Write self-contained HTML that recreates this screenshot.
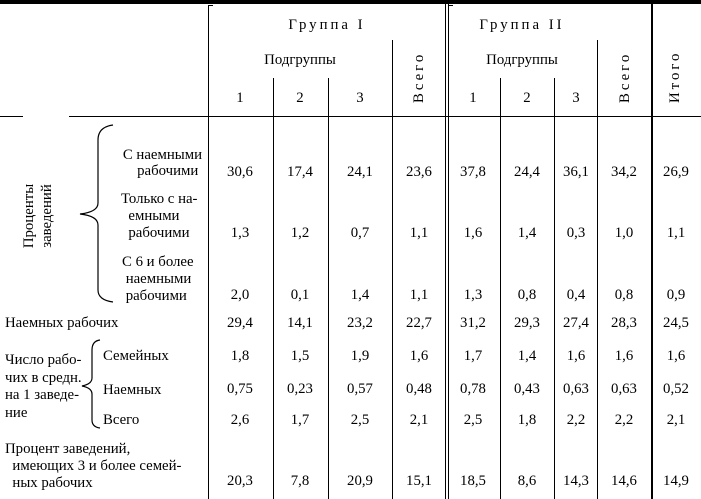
<!DOCTYPE html>
<html><head><meta charset="utf-8"><style>
body{margin:0;width:701px;height:499px;background:#fff;position:relative;overflow:hidden;font-family:"Liberation Serif",serif;font-size:14.8px;color:#000}
.t{position:absolute;line-height:16px;white-space:nowrap}
.c{position:absolute;line-height:16px;width:60px;text-align:center;white-space:nowrap}
.v{position:absolute;background:#000;width:1px}
.h{position:absolute;background:#000;height:1px}
.r{position:absolute;line-height:16px;white-space:nowrap;transform:rotate(-90deg);transform-origin:center}
.sp{letter-spacing:3px}
</style></head><body>
<div class="h" style="left:0;top:0;width:701px;height:4px"></div>
<div class="h" style="left:0;top:116px;width:23px"></div>
<div class="h" style="left:69px;top:116px;width:632px"></div>
<div class="v" style="left:208px;top:5px;height:494px"></div>
<div class="v" style="left:273px;top:78px;height:421px"></div>
<div class="v" style="left:328px;top:78px;height:421px"></div>
<div class="v" style="left:392px;top:40px;height:459px"></div>
<div class="v" style="left:445px;top:4px;height:495px"></div>
<div class="v" style="left:448px;top:4px;height:495px"></div>
<div class="v" style="left:500px;top:78px;height:421px"></div>
<div class="v" style="left:554px;top:78px;height:421px"></div>
<div class="v" style="left:597px;top:40px;height:459px"></div>
<div class="v" style="left:651px;top:4px;height:495px;width:2px"></div>
<div class="h" style="left:208px;top:5px;width:5px"></div>
<div class="h" style="left:448px;top:5px;width:5px"></div>

<div class="c sp" style="left:282px;top:17px;width:90px">Группа I</div>
<div class="c sp" style="left:467px;top:17px;width:110px">Группа II</div>
<div class="c" style="left:255px;top:52px;width:90px">Подгруппы</div>
<div class="c" style="left:477px;top:52px;width:90px">Подгруппы</div>
<div class="c" style="left:210px;top:90px">1</div>
<div class="c" style="left:270px;top:90px">2</div>
<div class="c" style="left:330px;top:90px">3</div>
<div class="c" style="left:443px;top:90px">1</div>
<div class="c" style="left:497px;top:90px">2</div>
<div class="c" style="left:546px;top:90px">3</div>
<div class="r sp" style="left:394px;top:70px;width:50px;text-align:center">Всего</div>
<div class="r sp" style="left:600px;top:70px;width:50px;text-align:center">Всего</div>
<div class="r sp" style="left:650px;top:70px;width:50px;text-align:center">Итого</div>

<div class="r" style="left:-12px;top:198px;width:100px;text-align:center;line-height:18px">Проценты<br>заведений</div>
<svg style="position:absolute;left:0;top:0" width="701" height="499"><path d="M113,125 Q98,127 98,140 L98,203 Q98,212 80,214 Q98,216 98,225 L98,290 Q98,300 113,302" fill="none" stroke="#000" stroke-width="1.2"/>
<path d="M100,340 Q92,341 92,350 L92,378 Q92,384 82,386 Q92,388 92,394 L92,420 Q92,427 100,428" fill="none" stroke="#000" stroke-width="1.2"/></svg>

<div class="t" style="right:499px;top:147px;text-align:right">С наемными<br>рабочими&nbsp;</div>
<div class="t" style="left:121px;top:191px;line-height:17px">Только с на-<br>&nbsp;&nbsp;емными<br>&nbsp;&nbsp;рабочими</div>
<div class="t" style="left:122px;top:254px;line-height:17px">С 6 и более<br>&nbsp;наемными<br>&nbsp;рабочими</div>
<div class="t" style="left:5px;top:315px">Наемных рабочих</div>
<div class="t" style="left:5px;top:352px;line-height:17.5px">Число рабо-<br>чих в средн.<br>на 1 заведе-<br>ние</div>
<div class="t" style="left:103px;top:348px">Семейных</div>
<div class="t" style="left:103px;top:382px">Наемных</div>
<div class="t" style="left:103px;top:412px">Всего</div>
<div class="t" style="left:5px;top:441px;line-height:17px">Процент заведений,<br>&nbsp;&nbsp;имеющих 3 и более семей-<br>&nbsp;&nbsp;ных рабочих</div>

<div id="d"></div>
<script>
var cols=[240,300,360,419,473,527,576,624,676];
var rows=[[164,"30,6 17,4 24,1 23,6 37,8 24,4 36,1 34,2 26,9"],[225,"1,3 1,2 0,7 1,1 1,6 1,4 0,3 1,0 1,1"],[287,"2,0 0,1 1,4 1,1 1,3 0,8 0,4 0,8 0,9"],[315,"29,4 14,1 23,2 22,7 31,2 29,3 27,4 28,3 24,5"],[348,"1,8 1,5 1,9 1,6 1,7 1,4 1,6 1,6 1,6"],[381,"0,75 0,23 0,57 0,48 0,78 0,43 0,63 0,63 0,52"],[412,"2,6 1,7 2,5 2,1 2,5 1,8 2,2 2,2 2,1"],[473,"20,3 7,8 20,9 15,1 18,5 8,6 14,3 14,6 14,9"]];
var h="";rows.forEach(function(r){r[1].split(" ").forEach(function(v,i){h+='<div class="c" style="left:'+(cols[i]-30)+'px;top:'+r[0]+'px">'+v+'</div>';});});
document.getElementById("d").innerHTML=h;
</script>
</body></html>
